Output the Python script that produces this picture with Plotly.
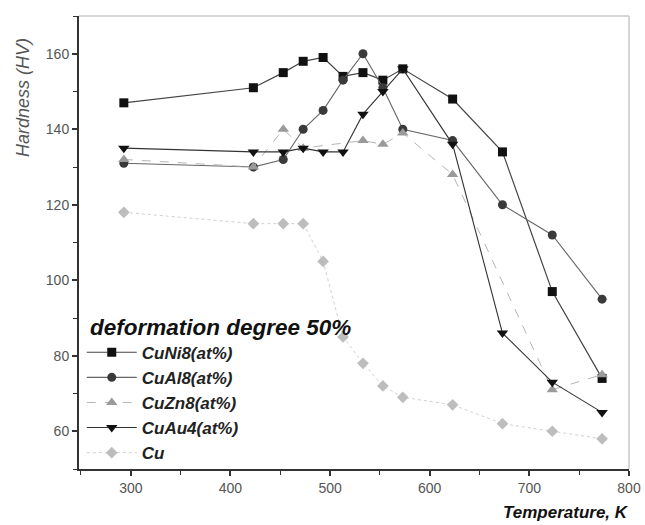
import plotly.graph_objects as go

# Data
T_full = [293, 423, 453, 473, 493, 513, 533, 553, 573, 623, 673, 723, 773]
cuni8 = [147, 151, 155, 158, 159, 154, 155, 153, 156, 148, 134, 97, 74]
cual8 = [131, 130, 132, 140, 145, 153, 160, 151, 140, 137, 120, 112, 95]
T_zn = [293, 423, 453, 473, 533, 553, 573, 623, 723, 773]
cuzn8 = [132, 130, 140, 135, 137, 136, 139, 128, 71, 75]
cuau4 = [135, 134, 134, 135, 134, 134, 144, 150, 156, 136, 86, 73, 65]
cu = [118, 115, 115, 115, 105, 85, 78, 72, 69, 67, 62, 60, 58]

x_ticks = [300, 400, 500, 600, 700, 800]
y_ticks = [60, 80, 100, 120, 140, 160]

FONT = "Liberation Sans, Arial, sans-serif"

fig = go.Figure()

series = [
    ("CuNi8(at%)", T_full, cuni8, "square", "#111111", 9, dict(color="#444444", width=1.2)),
    ("CuAl8(at%)", T_full, cual8, "circle", "#3a3a3a", 9, dict(color="#666666", width=1.1)),
    ("CuZn8(at%)", T_zn, cuzn8, "triangle-up", "#9a9a9a", 10, dict(color="#b5b5b5", width=1, dash="dash")),
    ("CuAu4(at%)", T_full, cuau4, "triangle-down", "#111111", 10, dict(color="#333333", width=1.1)),
    ("Cu", T_full, cu, "diamond", "#bdbdbd", 9, dict(color="#d0d0d0", width=1, dash="dot")),
]

for name, xs, ys, sym, col, sz, ln in series:
    fig.add_trace(go.Scatter(
        x=xs, y=ys, name="<b><i>" + name + "</i></b>", mode="lines+markers",
        line=ln,
        marker=dict(symbol=sym, color=col, size=sz, line=dict(width=0)),
    ))

axis_common = dict(
    showgrid=False, zeroline=False, automargin=False,
    showline=True, linecolor="#333333", linewidth=2,
    ticks="outside", ticklen=5, tickwidth=1.5, tickcolor="#333333",
    tickfont=dict(family=FONT, size=14, color="#555555"),
)

fig.update_xaxes(
    range=[248, 800], tickvals=x_ticks,
    minor=dict(dtick=50, tick0=0, ticks="outside", ticklen=4, tickcolor="#333333", tickwidth=1.2),
    **axis_common,
)
fig.update_yaxes(
    range=[50, 170], tickvals=y_ticks,
    minor=dict(dtick=10, tick0=0, ticks="outside", ticklen=4, tickcolor="#333333", tickwidth=1.2),
    **axis_common,
)

# light frame on top and right
fig.add_shape(type="line", xref="paper", yref="paper", x0=0, x1=1, y0=1, y1=1,
              line=dict(color="#c8c8c8", width=1.5))
fig.add_shape(type="line", xref="paper", yref="paper", x0=1, x1=1, y0=0, y1=1,
              line=dict(color="#c8c8c8", width=1.5))

fig.add_annotation(
    text="<i>Hardness (HV)</i>", textangle=-90, xref="paper", yref="paper",
    x=-0.102, y=0.821, showarrow=False, xanchor="center", yanchor="middle",
    font=dict(family=FONT, size=18, color="#555555"),
)
fig.add_annotation(
    text="<b><i>Temperature, K</i></b>", xref="paper", yref="paper",
    x=1.003, y=-0.095, showarrow=False, xanchor="right", yanchor="middle",
    font=dict(family=FONT, size=17, color="#111111"),
)

fig.update_layout(
    width=645, height=525,
    margin=dict(l=79, r=16, t=16, b=56, autoexpand=False),
    paper_bgcolor="white", plot_bgcolor="white",
    font=dict(family=FONT),
    legend=dict(
        x=0.005, y=0.361, xanchor="left", yanchor="top",
        bgcolor="rgba(0,0,0,0)",
        title=dict(text="&nbsp;<b><i>deformation degree 50%</i></b>",
                   font=dict(family=FONT, size=22.5, color="#111111")),
        font=dict(family=FONT, size=17, color="#222222"),
        itemwidth=50,
        tracegroupgap=0,
    ),
)

fig.write_html("out.html")
